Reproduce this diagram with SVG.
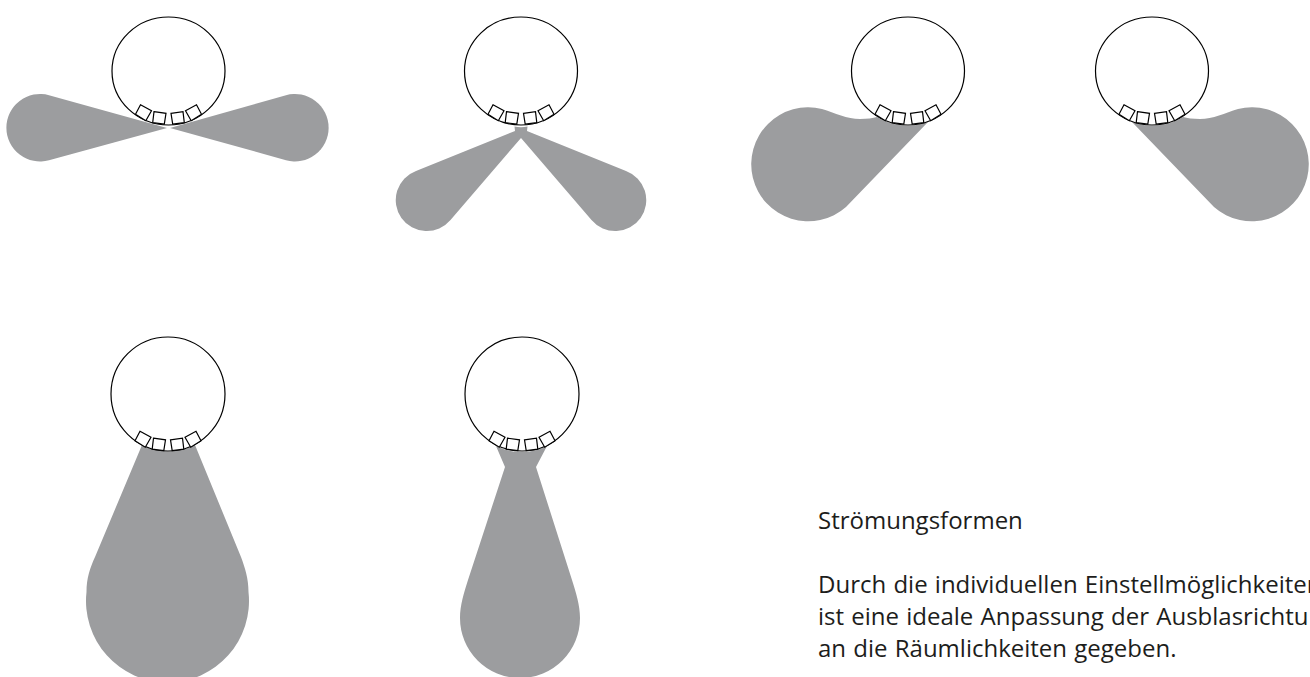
<svg xmlns="http://www.w3.org/2000/svg" width="1310" height="677" viewBox="0 0 1310 677">
<style>
.blob{fill:#9c9d9f;stroke:none}
.ring{fill:none;stroke:#000;stroke-width:1.2}
.nozzle{fill:#fff;stroke:#000;stroke-width:1.2;stroke-linejoin:miter}
text{font-family:"Open Sans","Noto Sans",sans-serif;font-size:24px;word-spacing:1px;fill:#1d1d1b}
</style>
<defs>
<g id="nozzles">
<path class="nozzle" d="M-28,31.7 L-17,37.7 L-22.7,47.7 L-33,41.3 Z"/>
<path class="nozzle" d="M-14.5,38.7 L-2.5,40.3 L-4.2,51 L-15.8,49.7 Z"/>
<path class="nozzle" d="M2.5,40.3 L14.5,38.7 L15.8,49.7 L4.2,51 Z"/>
<path class="nozzle" d="M17,37.7 L28,31.7 L33,41.3 L22.7,47.7 Z"/>
</g>
<g id="headTop">
<ellipse class="ring" cx="0" cy="0" rx="56.5" ry="54"/>
<use href="#nozzles" y="2"/>
</g>
<g id="headBottom">
<circle class="ring" cx="0" cy="0" r="57"/>
<use href="#nozzles" y="5.5"/>
</g>
<path id="lobeSide" d="M928,122 L846,207 A57,57 0 1 1 822,109 C835,113 847,119 860,119 C867,119 873,118 877,117 A56.5,54 0 0 0 928,122 Z"/>
</defs>
<g id="flow-1">
<path class="blob" d="M167,128 L49,160.2 A33.7,33.7 0 1 1 49,95.2 Z"/>
<path class="blob" d="M170,128 L286,95.2 A33.7,33.7 0 1 1 286,160.2 Z"/>
<use href="#headTop" x="168.5" y="71"/>
</g>
<g id="flow-2">
<path class="blob" d="M521,138 L450.5,220 A31,31 0 1 1 416,171 L515,131 L514.5,126.5 Q521,128 527.5,126.5 L527,131 L626,171 A31,31 0 1 1 591.5,220 Z"/>
<use href="#headTop" x="521" y="71"/>
</g>
<g id="flow-3">
<use href="#lobeSide" class="blob"/>
<use href="#headTop" x="908" y="71"/>
</g>
<g id="flow-4">
<use href="#lobeSide" class="blob" transform="translate(2060,0) scale(-1,1)"/>
<use href="#headTop" x="1152" y="71"/>
</g>
<g id="flow-5">
<path class="blob" d="M142,445 L95,557 C90,568 86.5,578 86.5,592 A81.5,81.5 0 1 0 248.5,592 C248.5,578 245,568 241,557 L195,445 A57,57 0 0 1 142,445 Z"/>
<use href="#headBottom" x="168" y="394"/>
</g>
<g id="flow-6">
<path class="blob" d="M496,446 L505,467 L468,580 C464,593 460,605 460,618 A60,60 0 0 0 580,618 C580,605 576,593 572,580 L536,467 L547,446 A57,57 0 0 1 496,446 Z"/>
<use href="#headBottom" x="522" y="394"/>
</g>
<g id="caption">
<text x="818" y="529">Strömungsformen</text>
<text x="818" y="593">Durch die individuellen Einstellmöglichkeiten</text>
<text x="818" y="625">ist eine ideale Anpassung der Ausblasrichtu</text>
<text x="818" y="657">an die Räumlichkeiten gegeben.</text>
</g>
</svg>
